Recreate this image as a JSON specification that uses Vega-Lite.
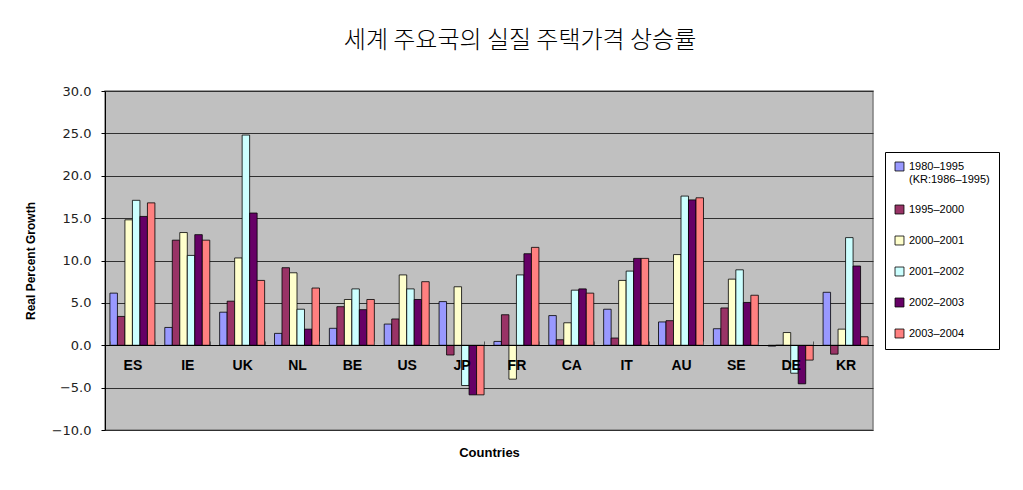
{
  "$schema": "https://vega.github.io/schema/vega-lite/v6.json",
  "width": 768,
  "height": 339,
  "autosize": {"type": "none"},
  "padding": {"left": 105, "top": 91, "right": 150, "bottom": 60},
  "background": "white",
  "title": {
    "text": "세계 주요국의 실질 주택가격 상승률",
    "font": "Noto Sans CJK KR",
    "fontSize": 24,
    "fontWeight": 300,
    "color": "#000000",
    "anchor": "middle",
    "frame": "group",
    "dx": 31,
    "offset": 32
  },
  "config": {
    "view": {"fill": "#C0C0C0", "stroke": "#808080", "strokeWidth": 1.5}
  },
  "data": {
    "values": [
      {"country": "ES", "period": "1980–1995", "value": 6.15},
      {"country": "ES", "period": "1995–2000", "value": 3.4},
      {"country": "ES", "period": "2000–2001", "value": 14.8},
      {"country": "ES", "period": "2001–2002", "value": 17.1},
      {"country": "ES", "period": "2002–2003", "value": 15.2},
      {"country": "ES", "period": "2003–2004", "value": 16.8},
      {"country": "IE", "period": "1980–1995", "value": 2.1},
      {"country": "IE", "period": "1995–2000", "value": 12.4},
      {"country": "IE", "period": "2000–2001", "value": 13.3},
      {"country": "IE", "period": "2001–2002", "value": 10.6},
      {"country": "IE", "period": "2002–2003", "value": 13.05},
      {"country": "IE", "period": "2003–2004", "value": 12.4},
      {"country": "UK", "period": "1980–1995", "value": 3.9},
      {"country": "UK", "period": "1995–2000", "value": 5.2},
      {"country": "UK", "period": "2000–2001", "value": 10.3},
      {"country": "UK", "period": "2001–2002", "value": 24.8},
      {"country": "UK", "period": "2002–2003", "value": 15.6},
      {"country": "UK", "period": "2003–2004", "value": 7.65},
      {"country": "NL", "period": "1980–1995", "value": 1.4},
      {"country": "NL", "period": "1995–2000", "value": 9.15},
      {"country": "NL", "period": "2000–2001", "value": 8.55},
      {"country": "NL", "period": "2001–2002", "value": 4.25},
      {"country": "NL", "period": "2002–2003", "value": 1.9},
      {"country": "NL", "period": "2003–2004", "value": 6.75},
      {"country": "BE", "period": "1980–1995", "value": 2.0},
      {"country": "BE", "period": "1995–2000", "value": 4.55},
      {"country": "BE", "period": "2000–2001", "value": 5.4},
      {"country": "BE", "period": "2001–2002", "value": 6.65},
      {"country": "BE", "period": "2002–2003", "value": 4.2},
      {"country": "BE", "period": "2003–2004", "value": 5.4},
      {"country": "US", "period": "1980–1995", "value": 2.5},
      {"country": "US", "period": "1995–2000", "value": 3.1},
      {"country": "US", "period": "2000–2001", "value": 8.3},
      {"country": "US", "period": "2001–2002", "value": 6.65},
      {"country": "US", "period": "2002–2003", "value": 5.4},
      {"country": "US", "period": "2003–2004", "value": 7.5},
      {"country": "JP", "period": "1980–1995", "value": 5.15},
      {"country": "JP", "period": "1995–2000", "value": -1.15},
      {"country": "JP", "period": "2000–2001", "value": 6.9},
      {"country": "JP", "period": "2001–2002", "value": -4.75},
      {"country": "JP", "period": "2002–2003", "value": -5.85},
      {"country": "JP", "period": "2003–2004", "value": -5.85},
      {"country": "FR", "period": "1980–1995", "value": 0.45},
      {"country": "FR", "period": "1995–2000", "value": 3.6},
      {"country": "FR", "period": "2000–2001", "value": -4.0},
      {"country": "FR", "period": "2001–2002", "value": 8.3},
      {"country": "FR", "period": "2002–2003", "value": 10.8},
      {"country": "FR", "period": "2003–2004", "value": 11.55},
      {"country": "CA", "period": "1980–1995", "value": 3.5},
      {"country": "CA", "period": "1995–2000", "value": 0.65},
      {"country": "CA", "period": "2000–2001", "value": 2.65},
      {"country": "CA", "period": "2001–2002", "value": 6.5},
      {"country": "CA", "period": "2002–2003", "value": 6.65},
      {"country": "CA", "period": "2003–2004", "value": 6.15},
      {"country": "IT", "period": "1980–1995", "value": 4.25},
      {"country": "IT", "period": "1995–2000", "value": 0.85},
      {"country": "IT", "period": "2000–2001", "value": 7.65},
      {"country": "IT", "period": "2001–2002", "value": 8.75},
      {"country": "IT", "period": "2002–2003", "value": 10.25},
      {"country": "IT", "period": "2003–2004", "value": 10.25},
      {"country": "AU", "period": "1980–1995", "value": 2.75},
      {"country": "AU", "period": "1995–2000", "value": 2.9},
      {"country": "AU", "period": "2000–2001", "value": 10.7},
      {"country": "AU", "period": "2001–2002", "value": 17.6},
      {"country": "AU", "period": "2002–2003", "value": 17.15},
      {"country": "AU", "period": "2003–2004", "value": 17.4},
      {"country": "SE", "period": "1980–1995", "value": 1.95},
      {"country": "SE", "period": "1995–2000", "value": 4.4},
      {"country": "SE", "period": "2000–2001", "value": 7.8},
      {"country": "SE", "period": "2001–2002", "value": 8.9},
      {"country": "SE", "period": "2002–2003", "value": 5.05},
      {"country": "SE", "period": "2003–2004", "value": 5.9},
      {"country": "DE", "period": "1980–1995", "value": -0.1},
      {"country": "DE", "period": "1995–2000", "value": 0.0},
      {"country": "DE", "period": "2000–2001", "value": 1.5},
      {"country": "DE", "period": "2001–2002", "value": -3.3},
      {"country": "DE", "period": "2002–2003", "value": -4.55},
      {"country": "DE", "period": "2003–2004", "value": -1.75},
      {"country": "KR", "period": "1980–1995", "value": 6.25},
      {"country": "KR", "period": "1995–2000", "value": -1.05},
      {"country": "KR", "period": "2000–2001", "value": 1.9},
      {"country": "KR", "period": "2001–2002", "value": 12.7},
      {"country": "KR", "period": "2002–2003", "value": 9.35},
      {"country": "KR", "period": "2003–2004", "value": 1.0}
    ]
  },
  "mark": {"type": "bar", "stroke": "#000000", "strokeWidth": 0.8},
  "encoding": {
    "x": {
      "field": "country",
      "type": "nominal",
      "sort": ["ES", "IE", "UK", "NL", "BE", "US", "JP", "FR", "CA", "IT", "AU", "SE", "DE", "KR"],
      "scale": {"paddingInner": 0.18, "paddingOuter": 0.09},
      "axis": {
        "title": "Countries",
        "titleFont": "Liberation Sans",
        "titleFontSize": 13,
        "titleFontWeight": "bold",
        "titleColor": "#000000",
        "titlePadding": 74,
        "offset": -85,
        "labelAngle": 0,
        "labelFont": "Liberation Sans",
        "labelFontSize": 14,
        "labelFontWeight": "bold",
        "labelColor": "#000000",
        "labelPadding": 17,
        "domainColor": "#000000",
        "domainWidth": 1,
        "tickColor": "#555555",
        "tickSize": -4,
        "tickBand": "extent",
        "zindex": 1
      }
    },
    "xOffset": {
      "field": "period",
      "type": "nominal",
      "scale": {"paddingInner": 0, "paddingOuter": 0}
    },
    "y": {
      "field": "value",
      "type": "quantitative",
      "scale": {"domain": [-10, 30], "nice": false, "zero": false},
      "axis": {
        "title": "Real Percent Growth",
        "titleFont": "Liberation Sans",
        "titleFontSize": 12,
        "titleFontWeight": "bold",
        "titleColor": "#000000",
        "titlePadding": 14,
        "values": [-10, -5, 0, 5, 10, 15, 20, 25, 30],
        "format": ".1f",
        "labelFont": "DejaVu Sans",
        "labelFontSize": 13,
        "labelColor": "#222222",
        "labelPadding": 10,
        "tickColor": "#000000",
        "tickSize": 4,
        "domainColor": "#000000",
        "grid": true,
        "gridColor": "#303030",
        "gridWidth": 1
      }
    },
    "color": {
      "field": "period",
      "type": "nominal",
      "scale": {
        "domain": ["1980–1995", "1995–2000", "2000–2001", "2001–2002", "2002–2003", "2003–2004"],
        "range": ["#9999FF", "#993366", "#FFFFCC", "#CCFFFF", "#660066", "#FF8080"]
      },
      "legend": {
        "title": null,
        "orient": "none",
        "legendX": 780,
        "legendY": 61,
        "padding": 9,
        "strokeColor": "#000000",
        "fillColor": "#FFFFFF",
        "symbolType": "square",
        "symbolSize": 80,
        "symbolStrokeColor": "#000000",
        "symbolStrokeWidth": 0.8,
        "labelFont": "Liberation Sans",
        "labelFontSize": 11,
        "labelColor": "#000000",
        "rowPadding": 18,
        "labelExpr": "datum.label == '1980–1995' ? ['1980–1995', '(KR:1986–1995)'] : datum.label"
      }
    }
  }
}
